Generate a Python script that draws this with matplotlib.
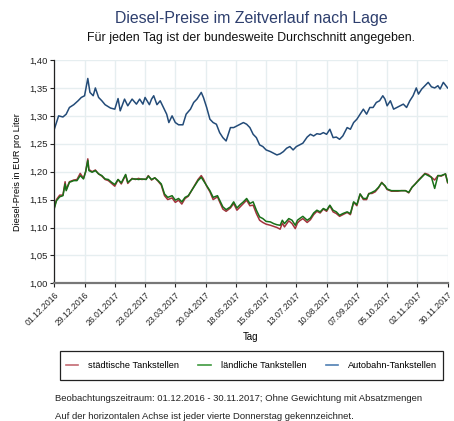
import datetime as dt

import matplotlib
matplotlib.use("Agg")
import matplotlib.pyplot as plt
from matplotlib.lines import Line2D
from matplotlib.patches import Rectangle

# =============================================================================
# Data (days since 01.12.2016)
# =============================================================================

start_datum = dt.date(2016, 12, 1)

tage_autobahn = [0, 4, 8, 11, 14, 18, 22, 25, 28, 31, 33, 36, 38, 41, 44, 47, 52, 56,
                 59, 61, 65, 68, 72, 76, 79, 82, 84, 88, 90, 92, 95, 98, 101, 104, 106,
                 109, 112, 115, 119, 122, 126, 129, 132, 134, 136, 138, 141, 144, 147,
                 150, 153, 156, 159, 163, 166, 169, 172, 175, 178, 181, 184, 187, 190,
                 193, 196, 200, 203, 206, 209, 212, 215, 218, 221, 224, 227, 230, 234,
                 237, 240, 243, 246, 249, 252, 255, 258, 261, 264, 267, 271, 274, 277,
                 280, 283, 286, 289, 292, 295, 298, 301, 304, 306, 308, 311, 314, 317,
                 320, 323, 326, 329, 332, 335, 337, 340, 343, 346, 349, 352, 355, 357,
                 360, 364]
preis_autobahn = [1.276, 1.300, 1.298, 1.303, 1.315, 1.320, 1.327, 1.333, 1.336, 1.367,
                  1.342, 1.336, 1.350, 1.333, 1.327, 1.320, 1.314, 1.312, 1.331, 1.309,
                  1.330, 1.318, 1.330, 1.321, 1.330, 1.321, 1.333, 1.320, 1.330, 1.336,
                  1.320, 1.327, 1.315, 1.303, 1.288, 1.300, 1.288, 1.284, 1.284, 1.303,
                  1.312, 1.324, 1.330, 1.336, 1.342, 1.333, 1.315, 1.294, 1.288, 1.285,
                  1.270, 1.261, 1.255, 1.279, 1.279, 1.282, 1.285, 1.288, 1.285, 1.279,
                  1.267, 1.261, 1.248, 1.245, 1.239, 1.236, 1.233, 1.230, 1.232, 1.236,
                  1.242, 1.245, 1.239, 1.245, 1.248, 1.251, 1.262, 1.267, 1.264, 1.268,
                  1.267, 1.270, 1.267, 1.276, 1.261, 1.262, 1.258, 1.264, 1.279, 1.276,
                  1.288, 1.294, 1.303, 1.312, 1.303, 1.315, 1.315, 1.324, 1.327, 1.336,
                  1.330, 1.318, 1.327, 1.312, 1.315, 1.318, 1.321, 1.315, 1.327, 1.336,
                  1.350, 1.339, 1.348, 1.354, 1.360, 1.352, 1.350, 1.354, 1.348, 1.360,
                  1.350]

tage_land = [0, 2, 5, 8, 10, 11, 14, 18, 21, 24, 27, 29, 31, 32, 35, 38, 41, 44, 47, 50,
             53, 56, 59, 62, 66, 68, 72, 75, 78, 81, 85, 87, 90, 93, 96, 99, 102, 105,
             109, 112, 115, 118, 121, 124, 127, 130, 133, 136, 138, 141, 144, 147, 151,
             153, 156, 159, 163, 166, 169, 172, 175, 178, 181, 184, 187, 190, 193, 196,
             200, 203, 206, 209, 211, 213, 217, 220, 223, 225, 227, 230, 234, 237, 240,
             243, 246, 249, 252, 255, 258, 261, 264, 267, 271, 274, 277, 280, 283, 286,
             289, 291, 294, 297, 300, 303, 306, 308, 312, 315, 318, 321, 325, 328, 331,
             334, 337, 340, 343, 346, 349, 352, 355, 358, 362, 364]
preis_stadt = [1.136, 1.150, 1.158, 1.158, 1.182, 1.168, 1.182, 1.185, 1.186, 1.197,
               1.188, 1.200, 1.223, 1.204, 1.200, 1.203, 1.196, 1.192, 1.186, 1.184,
               1.179, 1.174, 1.186, 1.178, 1.194, 1.179, 1.188, 1.186, 1.188, 1.186,
               1.187, 1.193, 1.185, 1.189, 1.183, 1.176, 1.157, 1.150, 1.153, 1.145,
               1.149, 1.142, 1.152, 1.156, 1.166, 1.176, 1.186, 1.193, 1.187, 1.174,
               1.164, 1.150, 1.155, 1.146, 1.133, 1.129, 1.135, 1.143, 1.131, 1.137,
               1.143, 1.149, 1.139, 1.140, 1.125, 1.113, 1.109, 1.106, 1.104, 1.102,
               1.100, 1.097, 1.108, 1.101, 1.112, 1.107, 1.098, 1.108, 1.112, 1.116,
               1.109, 1.114, 1.123, 1.129, 1.126, 1.133, 1.129, 1.139, 1.128, 1.125,
               1.120, 1.123, 1.127, 1.123, 1.145, 1.139, 1.160, 1.150, 1.150, 1.161,
               1.161, 1.164, 1.171, 1.181, 1.174, 1.168, 1.165, 1.165, 1.165, 1.166,
               1.166, 1.162, 1.172, 1.178, 1.185, 1.191, 1.197, 1.195, 1.190, 1.185,
               1.193, 1.192, 1.196, 1.180]
preis_land = [1.134, 1.148, 1.155, 1.157, 1.178, 1.166, 1.181, 1.184, 1.184, 1.193,
              1.187, 1.200, 1.220, 1.202, 1.199, 1.202, 1.196, 1.193, 1.187, 1.186,
              1.181, 1.177, 1.186, 1.180, 1.195, 1.181, 1.187, 1.187, 1.186, 1.187,
              1.186, 1.192, 1.186, 1.189, 1.184, 1.178, 1.160, 1.154, 1.157, 1.149,
              1.152, 1.146, 1.154, 1.157, 1.166, 1.175, 1.184, 1.190, 1.184, 1.175,
              1.166, 1.154, 1.157, 1.149, 1.137, 1.132, 1.137, 1.146, 1.135, 1.141,
              1.146, 1.152, 1.143, 1.146, 1.131, 1.119, 1.116, 1.111, 1.110, 1.107,
              1.105, 1.104, 1.113, 1.107, 1.116, 1.113, 1.104, 1.113, 1.116, 1.120,
              1.113, 1.117, 1.126, 1.131, 1.128, 1.134, 1.131, 1.140, 1.131, 1.128,
              1.122, 1.125, 1.128, 1.125, 1.146, 1.141, 1.160, 1.152, 1.152, 1.160,
              1.163, 1.166, 1.172, 1.180, 1.175, 1.169, 1.166, 1.166, 1.166, 1.166,
              1.166, 1.163, 1.172, 1.178, 1.184, 1.190, 1.196, 1.193, 1.190, 1.170,
              1.193, 1.193, 1.196, 1.181]

tick_tage = list(range(0, 365, 28))
y_ticks = [1.00, 1.05, 1.10, 1.15, 1.20, 1.25, 1.30, 1.35, 1.40]

col_stadt = "#a3333d"
col_land = "#187018"
col_autobahn = "#234b78"

# =============================================================================
# Plot
# =============================================================================

plt.rcParams["font.family"] = ["Liberation Sans", "DejaVu Sans"]

fig = plt.figure(figsize=(4.54, 4.21), dpi=100)
ax = fig.add_axes([0.1196, 0.327, 0.8664, 0.5304])

ax.plot(tage_land, preis_stadt, color=col_stadt, lw=1.1)
ax.plot(tage_land, preis_land, color=col_land, lw=1.1)
ax.plot(tage_autobahn, preis_autobahn, color=col_autobahn, lw=1.1)

ax.set_xlim(0, 364)
ax.set_ylim(1.0, 1.4)
ax.set_xticks(tick_tage)
ax.set_xticklabels([(start_datum + dt.timedelta(days=t)).strftime("%d.%m.%Y") for t in tick_tage],
                   rotation=45, ha="right", rotation_mode="anchor", fontsize=6.2)
ax.set_yticks(y_ticks)
ax.set_yticklabels([f"{v:.2f}".replace(".", ",") for v in y_ticks], fontsize=6.8)
ax.grid(True, color="#e6eef0", lw=1.0)
ax.set_axisbelow(True)
ax.tick_params(length=3, width=0.8, pad=2, colors="#222222")

for side in ("top", "right"):
    ax.spines[side].set_visible(False)
ax.spines["left"].set_color("#222222")
ax.spines["left"].set_linewidth(0.9)
ax.spines["bottom"].set_color("#777777")
ax.spines["bottom"].set_linewidth(1.6)

ax.set_xlabel("Tag", fontsize=7, labelpad=3)
ax.set_ylabel("Diesel-Preis in EUR pro Liter", fontsize=6.6, labelpad=5)

fig.text(0.553, 0.955, "Diesel-Preise im Zeitverlauf nach Lage", ha="center", va="center",
         fontsize=11.4, color="#2e3f6e")
fig.text(0.553, 0.91, "Für jeden Tag ist der bundesweite Durchschnitt angegeben.",
         ha="center", va="center", fontsize=8.9, color="#111111")

# legend box drawn separately, legend itself without frame
fig.patches.append(Rectangle((0.1322, 0.0974), 0.8436, 0.0689, transform=fig.transFigure,
                             fill=False, edgecolor="#222222", lw=0.9))
handles = [Line2D([], [], color="#c46a72", lw=1.2),
           Line2D([], [], color="#3f9a3f", lw=1.2),
           Line2D([], [], color="#4f7fb3", lw=1.2)]
labels = ["städtische Tankstellen", "ländliche Tankstellen", "Autobahn-Tankstellen"]
fig.legend(handles, labels, loc="center", bbox_to_anchor=(0.554, 0.132),
           ncol=3, fontsize=6.7, frameon=False,
           handlelength=1.3, handletextpad=1.1, columnspacing=2.1)

fig.text(0.121, 0.053, "Beobachtungszeitraum: 01.12.2016 - 30.11.2017; Ohne Gewichtung mit Absatzmengen",
         fontsize=6.8, va="center", color="#222222")
fig.text(0.121, 0.01, "Auf der horizontalen Achse ist jeder vierte Donnerstag gekennzeichnet.",
         fontsize=6.8, va="center", color="#222222")

fig.savefig("out.png", dpi=100)
